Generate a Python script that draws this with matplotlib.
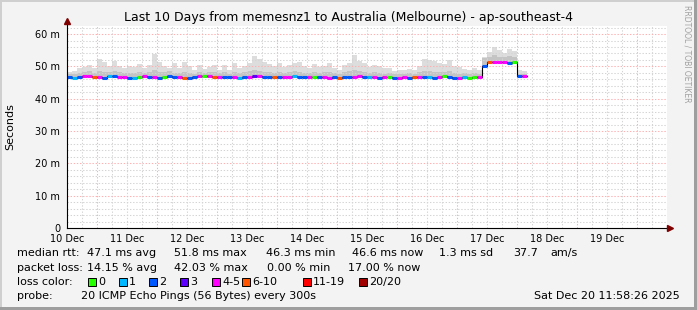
import matplotlib
matplotlib.use("Agg")
import matplotlib.pyplot as plt
from matplotlib.patches import Rectangle
import numpy as np

plt.rcParams['font.family'] = 'DejaVu Sans'

W, H = 697, 310

# hours since 10 Dec 00:00, one sample every 2 hours
start_hour = 12
step_hours = 2

median_ms = [
    46.6, 46.4, 46.8, 46.9, 47.0, 46.6, 46.8, 46.4, 46.9, 47.1,
    46.7, 46.8, 46.5, 46.5, 46.6, 46.9, 46.6, 46.7, 46.5, 46.8,
    47.0, 46.7, 46.6, 46.4, 46.5, 46.7, 46.9, 47.1, 46.9, 46.8,
    46.6, 46.7, 46.8, 46.6, 46.5, 46.7, 46.6, 46.9, 47.0, 46.8,
    46.7, 46.8, 46.7, 46.6, 46.7, 46.9, 46.8, 46.7, 46.6, 46.6,
    46.8, 46.7, 46.5, 46.6, 46.4, 46.6, 46.8, 46.7, 46.9, 46.8,
    46.7, 46.6, 46.5, 46.8, 46.7, 46.5, 46.4, 46.6, 46.5, 46.6,
    46.7, 46.8, 46.6, 46.5, 46.7, 46.9, 46.6, 46.5, 46.4, 46.6,
    46.5, 46.6, 46.6,
    50.1, 51.5, 51.4, 51.4, 51.3, 51.1, 51.4,
    47.0, 46.9,
]

loss_idx = [
    2, 1, 2, 4, 4, 5, 4, 2, 1, 2,
    4, 4, 2, 1, 0, 4, 2, 4, 2, 0,
    2, 2, 4, 5, 2, 2, 4, 0, 4, 5,
    4, 2, 2, 4, 1, 2, 4, 3, 4, 2,
    2, 5, 2, 4, 4, 1, 2, 2, 4, 0,
    2, 4, 4, 2, 5, 2, 2, 4, 4, 2,
    1, 4, 2, 4, 0, 2, 4, 4, 2, 5,
    4, 2, 1, 2, 4, 0, 2, 2, 4, 1,
    0, 0, 4,
    2, 5, 4, 4, 4, 2, 0,
    2, 4,
]

smoke_mid = [
    47.8, 47.6, 48.0, 48.3, 48.5, 48.0, 48.6, 48.2, 48.4, 48.7,
    48.2, 48.0, 47.9, 48.1, 48.3, 48.0, 48.2, 48.8, 48.4, 48.2,
    48.5, 48.0, 47.9, 48.4, 48.1, 47.8, 48.2, 48.0, 48.3, 48.4,
    47.9, 48.3, 47.8, 48.2, 48.0, 48.3, 48.5, 48.9, 48.6, 48.4,
    48.2, 48.0, 48.4, 48.0, 48.3, 48.5, 48.4, 48.0, 47.9, 48.2,
    48.0, 48.3, 48.4, 47.9, 47.8, 48.2, 48.5, 48.8, 48.6, 48.3,
    48.1, 48.3, 48.0, 47.8, 47.9, 47.6, 47.7, 47.8, 47.9, 47.8,
    48.2, 48.6, 48.5, 48.3, 48.4, 48.2, 48.6, 48.0, 47.8, 47.9,
    47.7, 48.0, 47.8,
    52.6, 53.0, 53.4, 53.0, 52.8, 53.2, 52.9,
    47.8, 47.6,
]

smoke_top = [
    48.3, 48.5, 49.5, 49.8, 50.3, 49.6, 52.3, 51.5, 50.2, 51.6,
    50.0, 49.5, 50.2, 49.8, 50.8, 49.6, 50.4, 53.8, 51.5, 50.2,
    49.4, 51.0, 49.5, 51.5, 50.2, 49.0, 50.5, 49.2, 49.8, 50.4,
    49.0, 50.5, 48.8, 51.0, 49.6, 50.2, 51.0, 53.2, 52.3, 51.5,
    50.8, 50.0, 51.0, 49.7, 50.5, 51.2, 51.4, 50.0, 49.5, 50.6,
    49.8, 50.2, 51.0, 49.5, 49.0, 50.5, 51.2, 53.5, 51.8, 51.0,
    49.8, 50.4, 50.1, 49.5, 49.6, 48.6, 48.8, 48.8, 49.3, 49.0,
    50.0, 52.2, 52.0, 51.6, 51.0, 50.8, 52.0, 50.0, 49.8, 49.2,
    48.9, 49.5, 49.0,
    53.0, 54.5, 56.0, 55.2, 54.0, 55.5, 54.8,
    49.0, 48.5,
]

day_labels = ["10 Dec", "11 Dec", "12 Dec", "13 Dec", "14 Dec",
              "15 Dec", "16 Dec", "17 Dec", "18 Dec", "19 Dec"]
loss_names = ["0", "1", "2", "3", "4-5", "6-10", "11-19", "20/20"]
loss_colors = ["#26ff00", "#00b8ff", "#0059ff", "#5e00ff",
               "#ff00ff", "#ff5500", "#ff0000", "#a10000"]


def px(x, y):
    return x / W, 1 - y / H


fig = plt.figure(figsize=(W / 100, H / 100), dpi=100, facecolor='#f3f3f3')

# 3d-ish frame like rrdtool
fig.add_artist(Rectangle((0, 1 - 2 / H), 1, 2 / H, transform=fig.transFigure, color='#cfcfcf', lw=0))
fig.add_artist(Rectangle((0, 0), 2 / W, 1, transform=fig.transFigure, color='#cfcfcf', lw=0))
fig.add_artist(Rectangle((1 - 3 / W, 0), 3 / W, 1, transform=fig.transFigure, color='#9e9e9e', lw=0))
fig.add_artist(Rectangle((0, 0), 1, 3 / H, transform=fig.transFigure, color='#9e9e9e', lw=0))

ax = fig.add_axes([67 / W, 1 - 228 / H, 600 / W, 202 / H])
ax.set_facecolor('white')
x0, x1 = 12, 252
ax.set_xlim(x0, x1)
ax.set_ylim(0, 62.5)

# grid
minor_c, major_c = '#d4d4d4', '#ffb0b0'
for h in np.arange(18, x1, 6):
    ax.axvline(h, color=major_c if h % 24 == 0 else minor_c, lw=0.75,
               ls=(0, (1.3, 1.7)), zorder=2.5)
for v in np.arange(2, 63, 2):
    ax.axhline(v, color=major_c if v % 10 == 0 else minor_c, lw=0.75,
               ls=(0, (1.3, 1.7)), zorder=2.5)

n = len(median_ms)
t = start_hour + step_hours * np.arange(n)
med = np.array(median_ms)
mid = np.array(smoke_mid)
top = np.array(smoke_top)

# smoke
ax.bar(t, top - med, bottom=med, width=step_hours, align='edge', color='#dddddd', lw=0, zorder=2)
ax.bar(t, mid - med, bottom=med, width=step_hours, align='edge', color='#c4c4c4', lw=0, zorder=2.1)

# median with loss colours
te = np.append(t, t[-1] + step_hours)
ax.step(te, np.append(med, med[-1]), where='post', color='black', lw=0.8, zorder=3)
for ti, m, li in zip(t, med, loss_idx):
    ax.plot([ti, ti + step_hours], [m, m], color=loss_colors[li], lw=2.2,
            solid_capstyle='butt', zorder=4)

# axes
for s in ax.spines.values():
    s.set_visible(False)
ax.plot([x0, x1 + 1.2], [0, 0], color='black', lw=0.8, clip_on=False, zorder=5)
ax.plot([x0, x0], [0, 63.8], color='black', lw=0.8, clip_on=False, zorder=5)
ax.plot([x1 + 1.3], [0], marker='>', color='#7f0000', ms=4, clip_on=False, zorder=6)
ax.plot([x0], [64.0], marker='^', color='#7f0000', ms=4, clip_on=False, zorder=6)

ax.set_xticks(np.arange(12, 229, 24))
ax.set_xticklabels(day_labels, fontsize=7)
ax.set_yticks(np.arange(0, 61, 10))
ax.set_yticklabels(["0"] + ["%d m" % v for v in range(10, 61, 10)], fontsize=7)
ax.tick_params(length=0)
ax.tick_params(axis='x', pad=4.5)
ax.tick_params(axis='y', pad=5)

fig.text(*px(10, 127), "Seconds", rotation=90, fontsize=8, ha='center', va='center')
fig.text(*px(348, 18), "Last 10 Days from memesnz1 to Australia (Melbourne) - ap-southeast-4",
         fontsize=9, ha='center', va='center')
fig.text(*px(687, 5), "RRDTOOL / TOBI OETIKER", rotation=270, fontsize=5.5,
         color='#a0a0a0', ha='center', va='top')

# legend block
fs = 8
rows = [
    (253, [(17, "median rtt:"), (87, "47.1 ms avg"), (174, "51.8 ms max"),
           (266, "46.3 ms min"), (352, "46.6 ms now"), (439, "1.3 ms sd"),
           (513, "37.7"), (550, "am/s")]),
    (268, [(17, "packet loss:"), (87, "14.15 % avg"), (174, "42.03 % max"),
           (267, "0.00 % min"), (348, "17.00 % now")]),
    (282, [(17, "loss color:")]),
    (296, [(17, "probe:"), (81, "20 ICMP Echo Pings (56 Bytes) every 300s")]),
]
for y, items in rows:
    for x, s in items:
        fig.text(*px(x, y), s, fontsize=fs, ha='left', va='center')

box_x = [88, 119, 149, 180, 212, 242, 303, 359]
for bx, name, col in zip(box_x, loss_names, loss_colors):
    fig.add_artist(Rectangle(px(bx, 286), 8 / W, 8 / H, transform=fig.transFigure,
                             facecolor=col, edgecolor='black', lw=0.7))
    fig.text(*px(bx + 10, 282), name, fontsize=fs, ha='left', va='center')

fig.text(*px(680, 296), "Sat Dec 20 11:58:26 2025", fontsize=fs, ha='right', va='center')

fig.savefig("out.png", dpi=100, facecolor=fig.get_facecolor())
